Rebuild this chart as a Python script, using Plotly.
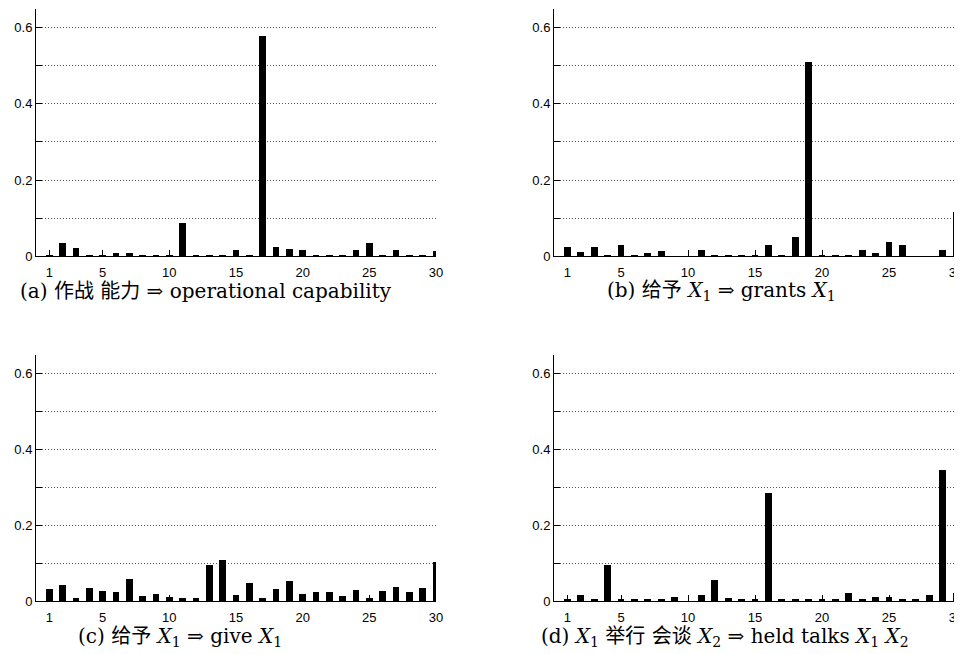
import plotly.graph_objects as go

positions = list(range(1, 31))

vals_a = [0.0035, 0.036, 0.022, 0.0035, 0.0035, 0.009, 0.011, 0.0035, 0.006, 0.006,
          0.089, 0.0035, 0.006, 0.006, 0.019, 0.005, 0.579, 0.026, 0.021, 0.018,
          0.006, 0.006, 0.003, 0.019, 0.035, 0.003, 0.019, 0.003, 0.003, 0.016]
vals_b = [0.027, 0.012, 0.027, 0.0035, 0.030, 0.0035, 0.009, 0.014, 0.0, 0.0,
          0.017, 0.0035, 0.006, 0.0035, 0.006, 0.030, 0.0035, 0.051, 0.510, 0.0035,
          0.0035, 0.006, 0.017, 0.011, 0.038, 0.030, 0.0, 0.0, 0.017, 0.117]
vals_c = [0.032, 0.042, 0.008, 0.034, 0.026, 0.024, 0.058, 0.013, 0.018, 0.011,
          0.008, 0.008, 0.095, 0.108, 0.016, 0.047, 0.008, 0.032, 0.053, 0.018,
          0.024, 0.024, 0.013, 0.029, 0.008, 0.026, 0.037, 0.024, 0.034, 0.103]
vals_d = [0.003, 0.016, 0.003, 0.095, 0.003, 0.003, 0.005, 0.003, 0.011, 0.0,
          0.016, 0.055, 0.008, 0.003, 0.005, 0.285, 0.003, 0.005, 0.005, 0.005,
          0.003, 0.021, 0.003, 0.011, 0.011, 0.005, 0.003, 0.016, 0.347, 0.021]

captions = [
    "(a) 作战 能力 ⇒ operational capability",
    "(b) 给予 <i>X</i><sub>1</sub> ⇒ grants <i>X</i><sub>1</sub>",
    "(c) 给予 <i>X</i><sub>1</sub> ⇒ give <i>X</i><sub>1</sub>",
    "(d) <i>X</i><sub>1</sub> 举行 会谈 <i>X</i><sub>2</sub> ⇒ held talks <i>X</i><sub>1</sub> <i>X</i><sub>2</sub>",
]

x_ticks = [1, 5, 10, 15, 20, 25, 30]
y_tickvals = [0, 0.1, 0.2, 0.3, 0.4, 0.5, 0.6]
y_ticktext = ["0", "", "0.2", "", "0.4", "", "0.6"]

# page body has an 8px margin: work in page pixels, shifted by it
OFF = 8
W, H = 962 - OFF, 654 - OFF
# panel boxes in page pixels: (x0, x1, ybottom, ytop)
boxes = [
    (36, 436, 256.3, 8.5),
    (554, 956, 256.3, 8.5),
    (36, 436, 601, 355),
    (554, 956, 601, 355),
]
caption_pos = [(206, 291), (721, 291), (180, 637), (725, 637)]

SANS = '"Liberation Sans", Arial, sans-serif'
SERIF = '"DejaVu Serif", "Noto Sans CJK SC", serif'

fig = go.Figure()
series = [vals_a, vals_b, vals_c, vals_d]
for i, (vals, box) in enumerate(zip(series, boxes)):
    n = "" if i == 0 else str(i + 1)
    fig.add_trace(go.Bar(
        x=positions, y=vals, width=0.5,
        marker=dict(color="black", line=dict(width=0)),
        xaxis="x" + n, yaxis="y" + n, showlegend=False,
    ))
    x0, x1, yb, yt = [v - OFF for v in box]
    fig.layout["xaxis" + n] = dict(
        domain=[x0 / W, min(1.0, x1 / W)], range=[0, 30], anchor="y" + n,
        tickvals=x_ticks, ticks="inside", ticklen=6, tickcolor="black",
        ticklabelstandoff=4, automargin=False, ticklabeloverflow="allow",
        showline=True, linecolor="black", linewidth=1, showgrid=False,
        zeroline=False, tickfont=dict(family=SANS, size=13, color="black"),
        fixedrange=True,
    )
    fig.layout["yaxis" + n] = dict(
        domain=[1 - yb / H, 1 - yt / H], range=[0, 0.65], anchor="x" + n,
        tickvals=y_tickvals, ticktext=y_ticktext, ticks="inside", ticklen=6,
        automargin=False,
        tickcolor="black", showline=True, linecolor="black", linewidth=1,
        showgrid=True, gridcolor="#555", griddash="1px,2px", gridwidth=1,
        zeroline=False, tickfont=dict(family=SANS, size=13, color="black"),
        fixedrange=True,
    )
    cx, cy = caption_pos[i]
    fig.add_annotation(
        x=(cx - OFF) / W, y=1 - (cy - OFF) / H, xref="paper", yref="paper",
        text=captions[i], showarrow=False, xanchor="center", yanchor="middle",
        font=dict(family=SERIF, size=20, color="black"),
    )

fig.update_layout(
    width=W, height=H, margin=dict(l=0, r=0, t=0, b=0, autoexpand=False),
    plot_bgcolor="white", paper_bgcolor="white", bargap=0,
)
fig.write_html("out.html")
